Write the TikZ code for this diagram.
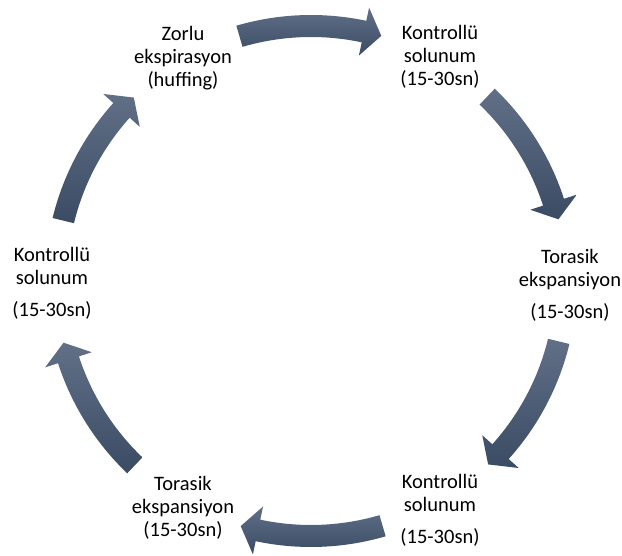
\documentclass[tikz,border=0pt]{standalone}
\usepackage{fontspec}
\setmainfont{Carlito}
\definecolor{arrtop}{RGB}{97,112,135}
\definecolor{arrbot}{RGB}{58,75,100}

\begin{document}
\begin{tikzpicture}[x=1pt, y=1pt,
  lbl/.style={align=center, inner sep=0pt, font=\fontsize{20.5}{23}\selectfont},
  cycarrow/.style={top color=arrtop, bottom color=arrbot, draw=none}]
  \useasboundingbox (-311,-275) rectangle (311,281);
  \clip (-311,-275) rectangle (311,281);
  % steps of the cycle
  \node[lbl] (huff) at (-128,223) {Zorlu\\ekspirasyon\\(huffing)};
  \node[lbl] (ctrlA) at (129,224) {Kontrollü\\solunum\\(15-30sn)};
  \node[lbl] (torA) at (259,-4) {Torasik\\ekspansiyon\\[9pt](15-30sn)};
  \node[lbl] (ctrlB) at (129,-229) {Kontrollü\\solunum\\[9pt](15-30sn)};
  \node[lbl] (torB) at (-128,-227) {Torasik\\ekspansiyon\\(15-30sn)};
  \node[lbl] (ctrlC) at (-259,-2) {Kontrollü\\solunum\\[9pt](15-30sn)};
  % block arrows, clockwise
  \foreach \c in {90,30,-30,-90,-150,150}
    \path[cycarrow] ({\c+16.3}:266) arc[start angle=\c+16.3, end angle=\c-12, radius=266]
      -- ({\c-12}:279.5) -- ({\c-16}:255) -- ({\c-12}:230.5) -- ({\c-12}:244)
      arc[start angle=\c-12, end angle=\c+16.3, radius=244] -- cycle;
\end{tikzpicture}
\end{document}
